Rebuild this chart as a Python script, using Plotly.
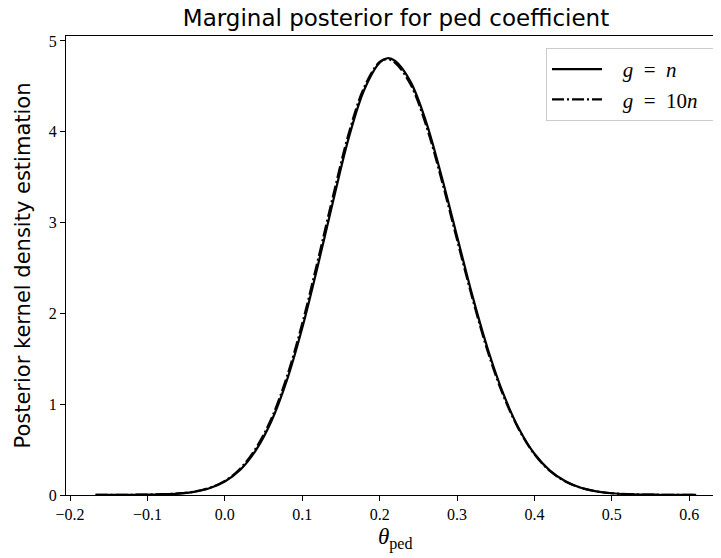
import plotly.graph_objects as go

# theta grid and posterior KDE values
theta = [-0.167, -0.14, -0.12, -0.10, -0.08, -0.06, -0.04, -0.02, 0.00, 0.02,
         0.04, 0.06, 0.08, 0.10, 0.12, 0.14, 0.16, 0.18, 0.20, 0.21,
         0.22, 0.24, 0.26, 0.28, 0.30, 0.32, 0.34, 0.36, 0.38, 0.40,
         0.42, 0.44, 0.46, 0.48, 0.50, 0.52, 0.54, 0.56, 0.58, 0.60, 0.609]

dens_g_n = [0.001, 0.002, 0.003, 0.005, 0.008, 0.016, 0.035, 0.074, 0.148, 0.278,
            0.492, 0.81, 1.26, 1.84, 2.52, 3.24, 3.93, 4.46, 4.76, 4.81,
            4.78, 4.55, 4.11, 3.51, 2.85, 2.19, 1.60, 1.11, 0.73, 0.454,
            0.269, 0.151, 0.080, 0.040, 0.019, 0.009, 0.005, 0.003, 0.002, 0.001, 0.001]

dens_g_10n = [0.001, 0.002, 0.003, 0.005, 0.009, 0.017, 0.037, 0.078, 0.155, 0.292,
              0.515, 0.84, 1.30, 1.89, 2.58, 3.30, 3.98, 4.49, 4.77, 4.80,
              4.76, 4.52, 4.07, 3.47, 2.81, 2.16, 1.57, 1.09, 0.72, 0.447,
              0.265, 0.149, 0.079, 0.040, 0.019, 0.009, 0.005, 0.003, 0.002, 0.001, 0.001]

x_ticks = [-0.2, -0.1, 0.0, 0.1, 0.2, 0.3, 0.4, 0.5, 0.6]
y_ticks = [0, 1, 2, 3, 4, 5]

serif = "Liberation Serif, DejaVu Serif, serif"
sans = "DejaVu Sans, Open Sans, sans-serif"

# the page body adds an 8px offset on the left and top
OFF = 8
W, H = 721, 558
L, T, B = 66 - OFF, 36 - OFF, H - (495 - OFF)
R = OFF
plot_w = W - L - R
plot_h = H - T - B

fig = go.Figure()
fig.add_trace(go.Scatter(x=theta, y=dens_g_n, mode="lines",
                         line=dict(color="black", width=2.2, shape="spline"),
                         name="&nbsp;&nbsp;&nbsp;<i>g</i>&nbsp;&nbsp;=&nbsp;&nbsp;<i>n</i>&nbsp;&nbsp;"))
fig.add_trace(go.Scatter(x=theta, y=dens_g_10n, mode="lines",
                         line=dict(color="black", width=2.2, shape="spline",
                                   dash="12px,3px,2px,3px"),
                         name="&nbsp;&nbsp;&nbsp;<i>g</i>&nbsp;&nbsp;=&nbsp;&nbsp;10<i>n</i>&nbsp;&nbsp;"))

fig.update_layout(
    width=W, height=H,
    margin=dict(l=L, r=R, t=T, b=B),
    paper_bgcolor="white", plot_bgcolor="white",
    title=dict(text="Marginal posterior for ped coefficient",
               font=dict(family=sans, size=23, color="black"),
               x=(396 - OFF) / W, xref="container", xanchor="center",
               y=1 - (18 - OFF) / H, yref="container", yanchor="middle"),
    legend=dict(x=(715 - 66) / plot_w, y=(495 - 48) / plot_h,
                xanchor="right", yanchor="top",
                bgcolor="rgba(255,255,255,0.8)", bordercolor="#cccccc",
                borderwidth=1, itemwidth=50, tracegroupgap=0,
                font=dict(family=serif, size=21, color="black")),
    showlegend=True,
    annotations=[
        dict(text="Posterior kernel density estimation", textangle=-90,
             xref="paper", yref="paper", x=-(66 - 22) / plot_w, y=0.5,
             xanchor="center", yanchor="middle", showarrow=False,
             font=dict(family=sans, size=21, color="black")),
        dict(text="<i>θ</i><sub>ped</sub>",
             xref="paper", yref="paper", x=(396 - 66) / plot_w,
             y=-(538 - 495) / plot_h,
             xanchor="center", yanchor="middle", showarrow=False,
             font=dict(family=serif, size=23, color="black")),
    ],
)

fig.update_xaxes(range=[-0.2052, 0.641], tickvals=x_ticks, tickformat=".1f",
                 automargin=False,
                 showline=True, linecolor="black", linewidth=1, mirror=True,
                 ticks="outside", ticklen=5, tickcolor="black", tickwidth=1,
                 showgrid=False, zeroline=False,
                 tickfont=dict(family=serif, size=16, color="black"))
fig.update_yaxes(range=[0, 5.055], tickvals=y_ticks, automargin=False,
                 showline=True, linecolor="black", linewidth=1, mirror=False,
                 ticks="outside", ticklen=5, tickcolor="black", tickwidth=1,
                 showgrid=False, zeroline=False,
                 tickfont=dict(family=serif, size=16, color="black"))

fig.write_html("out.html")
